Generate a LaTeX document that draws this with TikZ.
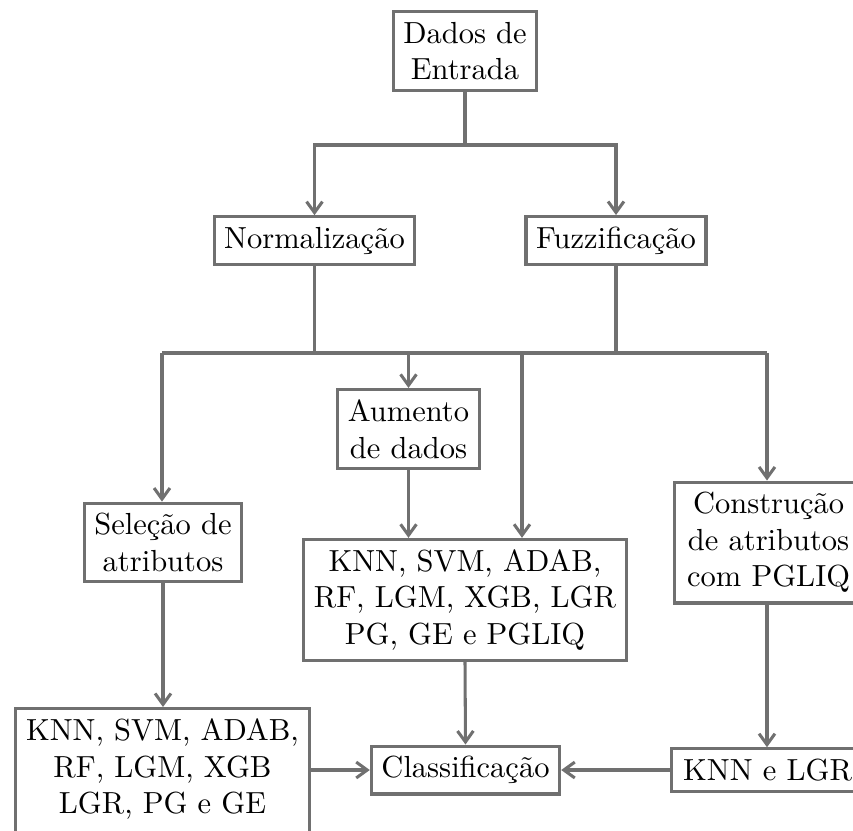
\documentclass[tikz,border=0pt]{standalone}
\usetikzlibrary{arrows.meta}
\definecolor{edgegray}{RGB}{112,112,112}
\begin{document}
\begin{tikzpicture}[x=0.3279pt,y=-0.3279pt,
  box/.style={draw=edgegray,line width=1pt,align=center,inner sep=3.33pt,fill=white},
  link/.style={draw=edgegray,line width=1pt},
  flow/.style={link,-{Straight Barb[length=3.6pt,width=5.2pt]}}]
\path[use as bounding box,clip] (0,0) rectangle (853,830);

% nodes
\node[box] (dados) at (465,51) {Dados de\\Entrada};
\node[box] (norm) at (314.5,240.5) {Normalização};
\node[box] (fuzz) at (616,240.5) {Fuzzificação};
\node[box] (aum) at (408.5,429) {Aumento\\de dados};
\node[box] (sel) at (163,542.5) {Seleção de\\atributos};
\node[box] (mid) at (465,600) {KNN, SVM, ADAB,\\RF, LGM, XGB, LGR\\PG, GE e PGLIQ};
\node[box,anchor=west,minimum width=61.7pt] (cons) at (673,542.5) {Construção\\de atributos\\com PGLIQ};
\node[box,anchor=north] (left) at (162.5,707) {KNN, SVM, ADAB,\\RF, LGM, XGB\\LGR, PG e GE\rule[-4.5pt]{0pt}{4.5pt}};
\node[box] (class) at (465.5,770) {Classificação};
\node[box,anchor=west,minimum width=63pt] (knn) at (670,770) {KNN e LGR};

% split after the input data
\coordinate (split) at (465,145);
\draw[link] (dados.south) -- (split);
\draw[flow] (split) -| (norm.north);
\draw[flow] (split) -| (fuzz.north);

% common bus
\coordinate (busL) at (162,353);
\coordinate (busR) at (767,353);
\coordinate (busA) at (408.5,353);
\coordinate (busM) at (522,353);
\draw[link] (norm.south) -- (norm.south |- busL);
\draw[link] (fuzz.south) -- (fuzz.south |- busL);
\draw[link] (busL) -- (busR);
\draw[flow] (busL) -- (sel.north -| busL);
\draw[flow] (busA) -- (aum.north);
\draw[flow] (busM) -- (mid.north -| busM);
\draw[flow] (busR) -- (cons.north -| busR);

% second level
\draw[flow] (aum.south) -- (aum.south |- mid.north);
\draw[flow] (sel.south) -- (left.north -| sel.south);
\draw[flow] (cons.south -| busR) -- (knn.north -| busR);

% classification
\draw[flow] (mid.south) -- (class.north);
\draw[flow] (left.east |- class.west) -- (class.west);
\draw[flow] (knn.west) -- (class.east);
\end{tikzpicture}
\end{document}
